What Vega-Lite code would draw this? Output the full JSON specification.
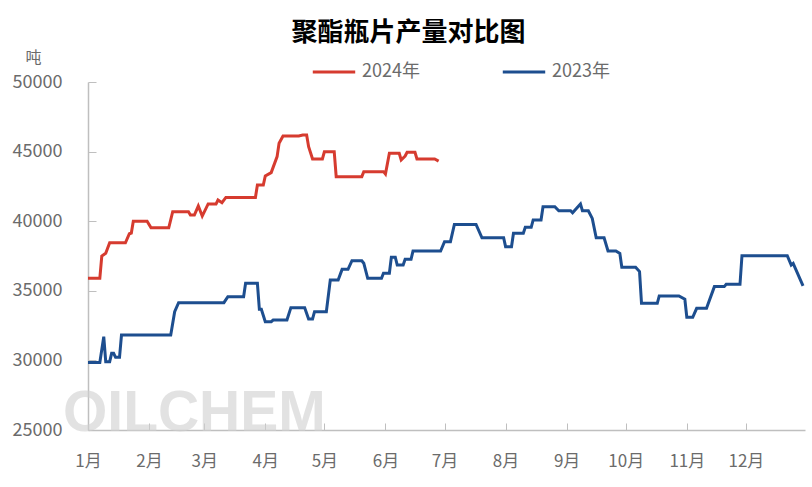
{
  "$schema": "https://vega.github.io/schema/vega-lite/v6.json",
  "width": 717,
  "height": 348,
  "autosize": {"type": "none"},
  "padding": {"left": 88, "top": 82, "right": 7, "bottom": 57},
  "background": "white",
  "title": {
    "text": "聚酯瓶片产量对比图",
    "font": "Noto Sans CJK SC",
    "fontSize": 26,
    "fontWeight": "bold",
    "color": "#000000",
    "anchor": "middle",
    "frame": "group",
    "dx": -38,
    "dy": 1
  },
  "config": {
    "view": {"stroke": null},
    "font": "Noto Sans CJK SC"
  },
  "layer": [
    {
      "data": {"values": [{"md": "02-24", "value": 26150, "label": "OILCHEM"}], "format": {"parse": {"md": "utc:'%m-%d'"}}},
      "mark": {"type": "text", "font": "Liberation Sans", "fontSize": 57, "fontWeight": "bold", "color": "#d0d0d0", "opacity": 0.6, "align": "center", "baseline": "middle"},
      "encoding": {
        "x": {"field": "md", "type": "temporal"},
        "y": {"field": "value", "type": "quantitative"},
        "text": {"field": "label"}
      }
    },
    {
      "data": {
        "format": {"parse": {"md": "utc:'%m-%d'"}},
        "values": [
          {"series": "2024年", "md": "01-01", "value": 35900},
          {"series": "2024年", "md": "01-07", "value": 35900},
          {"series": "2024年", "md": "01-08", "value": 37500},
          {"series": "2024年", "md": "01-10", "value": 37700},
          {"series": "2024年", "md": "01-12", "value": 38450},
          {"series": "2024年", "md": "01-20", "value": 38450},
          {"series": "2024年", "md": "01-22", "value": 39100},
          {"series": "2024年", "md": "01-23", "value": 39150},
          {"series": "2024年", "md": "01-24", "value": 40000},
          {"series": "2024年", "md": "01-31", "value": 40000},
          {"series": "2024年", "md": "02-02", "value": 39530},
          {"series": "2024年", "md": "02-11", "value": 39530},
          {"series": "2024年", "md": "02-13", "value": 40680},
          {"series": "2024年", "md": "02-21", "value": 40680},
          {"series": "2024年", "md": "02-22", "value": 40440},
          {"series": "2024年", "md": "02-24", "value": 40440},
          {"series": "2024年", "md": "02-26", "value": 41090},
          {"series": "2024年", "md": "02-28", "value": 40370},
          {"series": "2024年", "md": "03-03", "value": 41240},
          {"series": "2024年", "md": "03-07", "value": 41240},
          {"series": "2024年", "md": "03-08", "value": 41520},
          {"series": "2024年", "md": "03-10", "value": 41330},
          {"series": "2024年", "md": "03-12", "value": 41710},
          {"series": "2024年", "md": "03-27", "value": 41710},
          {"series": "2024年", "md": "03-28", "value": 42600},
          {"series": "2024年", "md": "03-31", "value": 42600},
          {"series": "2024年", "md": "04-01", "value": 43250},
          {"series": "2024年", "md": "04-04", "value": 43490},
          {"series": "2024年", "md": "04-07", "value": 44640},
          {"series": "2024年", "md": "04-08", "value": 45600},
          {"series": "2024年", "md": "04-10", "value": 46120},
          {"series": "2024年", "md": "04-18", "value": 46120},
          {"series": "2024年", "md": "04-20", "value": 46190},
          {"series": "2024年", "md": "04-22", "value": 46190},
          {"series": "2024年", "md": "04-23", "value": 45350},
          {"series": "2024年", "md": "04-25", "value": 44470},
          {"series": "2024年", "md": "04-30", "value": 44470},
          {"series": "2024年", "md": "05-01", "value": 44990},
          {"series": "2024年", "md": "05-06", "value": 44990},
          {"series": "2024年", "md": "05-07", "value": 43200},
          {"series": "2024年", "md": "05-20", "value": 43200},
          {"series": "2024年", "md": "05-21", "value": 43560},
          {"series": "2024年", "md": "05-31", "value": 43560},
          {"series": "2024年", "md": "06-01", "value": 43390},
          {"series": "2024年", "md": "06-03", "value": 44880},
          {"series": "2024年", "md": "06-08", "value": 44880},
          {"series": "2024年", "md": "06-09", "value": 44400},
          {"series": "2024年", "md": "06-11", "value": 44680},
          {"series": "2024年", "md": "06-12", "value": 44950},
          {"series": "2024年", "md": "06-16", "value": 44950},
          {"series": "2024年", "md": "06-17", "value": 44470},
          {"series": "2024年", "md": "06-26", "value": 44470},
          {"series": "2024年", "md": "06-28", "value": 44320},
          {"series": "2023年", "md": "01-01", "value": 29850},
          {"series": "2023年", "md": "01-07", "value": 29850},
          {"series": "2023年", "md": "01-09", "value": 31700},
          {"series": "2023年", "md": "01-10", "value": 29910},
          {"series": "2023年", "md": "01-12", "value": 29910},
          {"series": "2023年", "md": "01-13", "value": 30510},
          {"series": "2023年", "md": "01-14", "value": 30510},
          {"series": "2023年", "md": "01-15", "value": 30220},
          {"series": "2023年", "md": "01-17", "value": 30220},
          {"series": "2023年", "md": "01-18", "value": 31820},
          {"series": "2023年", "md": "02-12", "value": 31820},
          {"series": "2023年", "md": "02-14", "value": 33500},
          {"series": "2023年", "md": "02-16", "value": 34150},
          {"series": "2023年", "md": "03-11", "value": 34150},
          {"series": "2023年", "md": "03-13", "value": 34580},
          {"series": "2023年", "md": "03-21", "value": 34580},
          {"series": "2023年", "md": "03-22", "value": 35540},
          {"series": "2023年", "md": "03-28", "value": 35540},
          {"series": "2023年", "md": "03-29", "value": 33670},
          {"series": "2023年", "md": "03-30", "value": 33670},
          {"series": "2023年", "md": "04-01", "value": 32780},
          {"series": "2023年", "md": "04-04", "value": 32780},
          {"series": "2023年", "md": "04-05", "value": 32900},
          {"series": "2023年", "md": "04-12", "value": 32900},
          {"series": "2023年", "md": "04-14", "value": 33790},
          {"series": "2023年", "md": "04-21", "value": 33790},
          {"series": "2023年", "md": "04-23", "value": 32980},
          {"series": "2023年", "md": "04-25", "value": 32980},
          {"series": "2023年", "md": "04-26", "value": 33500},
          {"series": "2023年", "md": "05-02", "value": 33500},
          {"series": "2023年", "md": "05-04", "value": 35780},
          {"series": "2023年", "md": "05-08", "value": 35780},
          {"series": "2023年", "md": "05-10", "value": 36540},
          {"series": "2023年", "md": "05-13", "value": 36540},
          {"series": "2023年", "md": "05-15", "value": 37160},
          {"series": "2023年", "md": "05-20", "value": 37160},
          {"series": "2023年", "md": "05-21", "value": 36980},
          {"series": "2023年", "md": "05-23", "value": 35900},
          {"series": "2023年", "md": "05-30", "value": 35900},
          {"series": "2023年", "md": "05-31", "value": 36260},
          {"series": "2023年", "md": "06-03", "value": 36260},
          {"series": "2023年", "md": "06-04", "value": 37410},
          {"series": "2023年", "md": "06-06", "value": 37410},
          {"series": "2023年", "md": "06-07", "value": 36850},
          {"series": "2023年", "md": "06-10", "value": 36850},
          {"series": "2023年", "md": "06-11", "value": 37260},
          {"series": "2023年", "md": "06-14", "value": 37260},
          {"series": "2023年", "md": "06-15", "value": 37860},
          {"series": "2023年", "md": "06-29", "value": 37860},
          {"series": "2023年", "md": "07-01", "value": 38530},
          {"series": "2023年", "md": "07-04", "value": 38530},
          {"series": "2023年", "md": "07-06", "value": 39770},
          {"series": "2023年", "md": "07-17", "value": 39770},
          {"series": "2023年", "md": "07-20", "value": 38810},
          {"series": "2023年", "md": "07-31", "value": 38810},
          {"series": "2023年", "md": "08-01", "value": 38170},
          {"series": "2023年", "md": "08-04", "value": 38170},
          {"series": "2023年", "md": "08-05", "value": 39130},
          {"series": "2023年", "md": "08-10", "value": 39130},
          {"series": "2023年", "md": "08-11", "value": 39560},
          {"series": "2023年", "md": "08-14", "value": 39560},
          {"series": "2023年", "md": "08-15", "value": 40090},
          {"series": "2023年", "md": "08-19", "value": 40090},
          {"series": "2023年", "md": "08-20", "value": 41040},
          {"series": "2023年", "md": "08-26", "value": 41040},
          {"series": "2023年", "md": "08-28", "value": 40750},
          {"series": "2023年", "md": "09-03", "value": 40750},
          {"series": "2023年", "md": "09-04", "value": 40610},
          {"series": "2023年", "md": "09-08", "value": 41240},
          {"series": "2023年", "md": "09-09", "value": 40750},
          {"series": "2023年", "md": "09-12", "value": 40750},
          {"series": "2023年", "md": "09-14", "value": 40200},
          {"series": "2023年", "md": "09-16", "value": 38810},
          {"series": "2023年", "md": "09-20", "value": 38810},
          {"series": "2023年", "md": "09-22", "value": 37860},
          {"series": "2023年", "md": "09-26", "value": 37860},
          {"series": "2023年", "md": "09-28", "value": 37690},
          {"series": "2023年", "md": "09-29", "value": 36690},
          {"series": "2023年", "md": "10-06", "value": 36690},
          {"series": "2023年", "md": "10-08", "value": 36380},
          {"series": "2023年", "md": "10-09", "value": 34100},
          {"series": "2023年", "md": "10-17", "value": 34100},
          {"series": "2023年", "md": "10-18", "value": 34630},
          {"series": "2023年", "md": "10-28", "value": 34630},
          {"series": "2023年", "md": "10-31", "value": 34390},
          {"series": "2023年", "md": "11-01", "value": 33100},
          {"series": "2023年", "md": "11-04", "value": 33100},
          {"series": "2023年", "md": "11-06", "value": 33740},
          {"series": "2023年", "md": "11-11", "value": 33740},
          {"series": "2023年", "md": "11-15", "value": 35300},
          {"series": "2023年", "md": "11-20", "value": 35300},
          {"series": "2023年", "md": "11-21", "value": 35470},
          {"series": "2023年", "md": "11-28", "value": 35470},
          {"series": "2023年", "md": "11-29", "value": 37520},
          {"series": "2023年", "md": "12-22", "value": 37520},
          {"series": "2023年", "md": "12-24", "value": 36850},
          {"series": "2023年", "md": "12-25", "value": 36970},
          {"series": "2023年", "md": "12-30", "value": 35350}
        ]
      },
      "mark": {"type": "line", "strokeWidth": 3, "interpolate": "linear"},
      "encoding": {
        "x": {
          "field": "md",
          "type": "temporal",
          "scale": {
            "type": "utc",
            "domain": [
              {"year": 1900, "month": 1, "date": 1, "utc": true},
              {"year": 1900, "month": 12, "date": 31, "utc": true}
            ]
          },
          "axis": {
            "title": null,
            "grid": false,
            "values": [
              {"year": 1900, "month": 1, "date": 1, "utc": true},
              {"year": 1900, "month": 2, "date": 1, "utc": true},
              {"year": 1900, "month": 3, "date": 1, "utc": true},
              {"year": 1900, "month": 4, "date": 1, "utc": true},
              {"year": 1900, "month": 5, "date": 1, "utc": true},
              {"year": 1900, "month": 6, "date": 1, "utc": true},
              {"year": 1900, "month": 7, "date": 1, "utc": true},
              {"year": 1900, "month": 8, "date": 1, "utc": true},
              {"year": 1900, "month": 9, "date": 1, "utc": true},
              {"year": 1900, "month": 10, "date": 1, "utc": true},
              {"year": 1900, "month": 11, "date": 1, "utc": true},
              {"year": 1900, "month": 12, "date": 1, "utc": true}
            ],
            "labelExpr": "(utcmonth(datum.value) + 1) + '月'",
            "labelFont": "Noto Sans CJK SC",
            "labelFontSize": 17,
            "labelColor": "#6b6b6b",
            "labelFlush": false,
            "labelOverlap": false,
            "labelAngle": 0,
            "labelPadding": 30,
            "domainColor": "#bfbfbf",
            "domainWidth": 1.5,
            "tickColor": "#bfbfbf",
            "tickSize": -7,
            "tickWidth": 1
          }
        },
        "y": {
          "field": "value",
          "type": "quantitative",
          "scale": {"domain": [25000, 50000], "zero": false, "nice": false},
          "axis": {
            "title": "吨",
            "titleAngle": 0,
            "titleX": -55,
            "titleY": -25,
            "titleAlign": "center",
            "titleBaseline": "middle",
            "titleFont": "Noto Sans CJK SC",
            "titleFontSize": 16,
            "titleFontWeight": "normal",
            "titleColor": "#6b6b6b",
            "grid": false,
            "values": [25000, 30000, 35000, 40000, 45000, 50000],
            "format": "d",
            "labelFont": "Noto Sans CJK SC",
            "labelFontSize": 18,
            "labelColor": "#6b6b6b",
            "labelFlush": false,
            "labelOverlap": false,
            "labelPadding": 34,
            "domainColor": "#bfbfbf",
            "domainWidth": 1.5,
            "tickColor": "#bfbfbf",
            "tickSize": -8,
            "tickWidth": 1
          }
        },
        "color": {
          "field": "series",
          "type": "nominal",
          "scale": {"domain": ["2024年", "2023年"], "range": ["#d63b2f", "#1d4e8f"]},
          "legend": {
            "title": null,
            "orient": "none",
            "legendX": 223,
            "legendY": -33,
            "direction": "horizontal",
            "symbolType": "stroke",
            "symbolSize": 1800,
            "symbolStrokeWidth": 3,
            "labelFont": "Noto Sans CJK SC",
            "labelFontSize": 18,
            "labelColor": "#6b6b6b",
            "labelOffset": 5,
            "columnPadding": 76
          }
        }
      }
    }
  ]
}
